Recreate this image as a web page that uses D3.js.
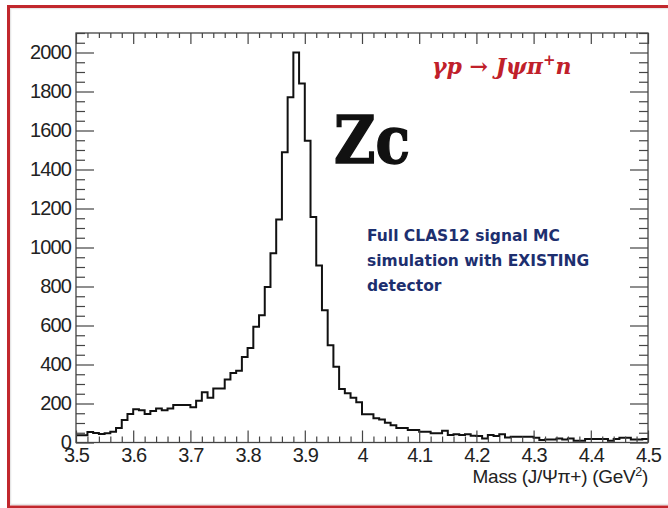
<!DOCTYPE html>
<html>
<head>
<meta charset="utf-8">
<script src="https://cdn.jsdelivr.net/npm/d3@7"></script>
<style>
  html, body { margin: 0; padding: 0; background: #fff; }
  svg { display: block; }
</style>
</head>
<body>
<div id="chart"></div>
<script>
// ---- Data ----
const massStart = 3.5;      // GeV^2, lower edge of first bin
const massEnd = 4.5;        // upper edge of last bin
const binWidth = 0.01;
const counts = [
  37, 37, 54, 49, 44, 47, 55, 75, 115, 146,
  171, 166, 146, 161, 175, 166, 175, 192, 192, 192,
  181, 214, 258, 229, 277, 277, 323, 356, 368, 438,
  485, 593, 653, 797, 971, 1144, 1488, 1770, 2000, 1841,
  1548, 1156, 908, 678, 499, 388, 275, 252, 230, 206,
  145, 145, 125, 118, 101, 89, 75, 75, 64, 64,
  55, 55, 47, 47, 60, 38, 42, 38, 42, 35,
  33, 21, 38, 33, 42, 26, 30, 30, 30, 30,
  25, 13, 16, 16, 21, 16, 21, 9, 9, 18,
  18, 18, 18, 9, 18, 25, 25, 16, 16, 18
];
const xTickValues = [3.5, 3.6, 3.7, 3.8, 3.9, 4.0, 4.1, 4.2, 4.3, 4.4, 4.5];
const xTickLabels = ["3.5", "3.6", "3.7", "3.8", "3.9", "4", "4.1", "4.2", "4.3", "4.4", "4.5"];
const yTickValues = [0, 200, 400, 600, 800, 1000, 1200, 1400, 1600, 1800, 2000];
const yTickLabels = ["0", "200", "400", "600", "800", "1000", "1200", "1400", "1600", "1800", "2000"];
const yMax = 2100;
const xTitle = "Mass (J/\u03A8\u03C0+) (GeV";
const reactionText = "\u03B3p \u2192 J\u03C8\u03C0";
const zcText = "Zc";
const noteLines = ["Full CLAS12 signal MC", "simulation with EXISTING", "detector"];

// ---- Layout ----
const W = 668, H = 508;
const plot = { left: 76, right: 648, top: 33, bottom: 442.5 };

const svg = d3.select("#chart").append("svg")
  .attr("width", W).attr("height", H);

svg.append("rect").attr("width", W).attr("height", H).attr("fill", "#fff");

// red slide border
svg.append("rect")
  .attr("x", 10.5).attr("y", 8.5).attr("width", 700).attr("height", 496)
  .attr("fill", "none").attr("stroke", "#e6e6e6").attr("stroke-width", 1.5);
svg.append("rect")
  .attr("x", 8.5).attr("y", 6.5).attr("width", 700).attr("height", 500.5)
  .attr("fill", "none").attr("stroke", "#c1272d").attr("stroke-width", 3);

const x = d3.scaleLinear().domain([massStart, massEnd]).range([plot.left, plot.right]);
const y = d3.scaleLinear().domain([0, yMax]).range([plot.bottom, plot.top]);

// histogram
const pts = counts.map((c, i) => [massStart + i * binWidth, c]);
pts.push([massEnd, counts[counts.length - 1]]);
const line = d3.line().x(d => x(d[0])).y(d => y(d[1])).curve(d3.curveStepAfter);
svg.append("path").datum(pts)
  .attr("d", line)
  .attr("fill", "none").attr("stroke", "#111").attr("stroke-width", 2)
  .attr("stroke-linejoin", "miter");

// axes
const axisColor = "#444";
const fontFam = "'Liberation Sans', Arial, Helvetica, sans-serif";
const xMinor = d3.range(0, 51).map(i => massStart + i * 0.02).filter(v => Math.abs(Math.round(v * 10) - v * 10) > 1e-6);
const yMinor = d3.range(0, 43).map(i => i * 50).filter(v => v % 200 !== 0 && v <= yMax);

function styleAxis(g) {
  g.select(".domain").remove();
  g.selectAll("line").attr("stroke", axisColor).attr("stroke-width", 1.2);
  g.selectAll("text").attr("font-family", fontFam).attr("font-size", 20)
    .attr("letter-spacing", "-0.9px").attr("fill", "#222");
}

// bottom
svg.append("g").attr("transform", `translate(0,${plot.bottom})`)
  .call(d3.axisBottom(x).tickValues(xTickValues)
    .tickFormat((d, i) => xTickLabels[i]).tickSizeInner(-12).tickSizeOuter(0).tickPadding(5))
  .call(styleAxis);
svg.append("g").attr("transform", `translate(0,${plot.bottom})`)
  .call(d3.axisBottom(x).tickValues(xMinor).tickFormat("").tickSizeInner(-6).tickSizeOuter(0))
  .call(styleAxis);
// top
svg.append("g").attr("transform", `translate(0,${plot.top})`)
  .call(d3.axisTop(x).tickValues(xTickValues).tickFormat("").tickSizeInner(-11).tickSizeOuter(0))
  .call(styleAxis);
svg.append("g").attr("transform", `translate(0,${plot.top})`)
  .call(d3.axisTop(x).tickValues(xMinor).tickFormat("").tickSizeInner(-5).tickSizeOuter(0))
  .call(styleAxis);
// left
svg.append("g").attr("transform", `translate(${plot.left},0)`)
  .call(d3.axisLeft(y).tickValues(yTickValues).tickFormat((d, i) => yTickLabels[i])
    .tickSizeInner(-18).tickSizeOuter(0).tickPadding(5))
  .call(styleAxis);
svg.append("g").attr("transform", `translate(${plot.left},0)`)
  .call(d3.axisLeft(y).tickValues(yMinor).tickFormat("").tickSizeInner(-9).tickSizeOuter(0))
  .call(styleAxis);
// right
svg.append("g").attr("transform", `translate(${plot.right},0)`)
  .call(d3.axisRight(y).tickValues(yTickValues).tickFormat("").tickSizeInner(-18).tickSizeOuter(0))
  .call(styleAxis);
svg.append("g").attr("transform", `translate(${plot.right},0)`)
  .call(d3.axisRight(y).tickValues(yMinor).tickFormat("").tickSizeInner(-9).tickSizeOuter(0))
  .call(styleAxis);

// frame
svg.append("rect")
  .attr("x", plot.left).attr("y", plot.top)
  .attr("width", plot.right - plot.left).attr("height", plot.bottom - plot.top)
  .attr("fill", "none").attr("stroke", axisColor).attr("stroke-width", 1.3);

// x axis title
const xt = svg.append("text")
  .attr("x", plot.right).attr("y", 483)
  .attr("text-anchor", "end")
  .attr("font-family", fontFam).attr("font-size", 19).attr("fill", "#222")
  .attr("letter-spacing", "-0.3px");
xt.append("tspan").text(xTitle);
xt.append("tspan").attr("font-size", 12.5).attr("dy", -7).text("2");
xt.append("tspan").attr("dy", 7).text(")");

// reaction label
const rt = svg.append("text")
  .attr("x", 432).attr("y", 74)
  .attr("font-family", "'DejaVu Serif', 'Liberation Serif', serif")
  .attr("font-size", 22).attr("font-style", "italic").attr("font-weight", "bold")
  .attr("fill", "#c0202a");
rt.append("tspan").text(reactionText);
rt.append("tspan").attr("font-size", 15).attr("dy", -9).text("+");
rt.append("tspan").attr("dy", 9).text("n");

// Zc
svg.append("text")
  .attr("x", 334).attr("y", 163)
  .attr("font-family", "'DejaVu Serif', 'Liberation Serif', serif")
  .attr("font-size", 66).attr("font-weight", "bold")
  .attr("textLength", 76).attr("lengthAdjust", "spacingAndGlyphs")
  .attr("fill", "#111").attr("stroke", "#111").attr("stroke-width", 1.5)
  .text(zcText);

// note
svg.append("g").selectAll("text").data(noteLines).join("text")
  .attr("x", 367).attr("y", (d, i) => 241 + i * 25)
  .attr("font-family", "'DejaVu Sans', 'Open Sans', sans-serif")
  .attr("font-size", 15.5).attr("font-weight", "bold")
  .attr("fill", "#1d2f6f")
  .text(d => d);
</script>
</body>
</html>
